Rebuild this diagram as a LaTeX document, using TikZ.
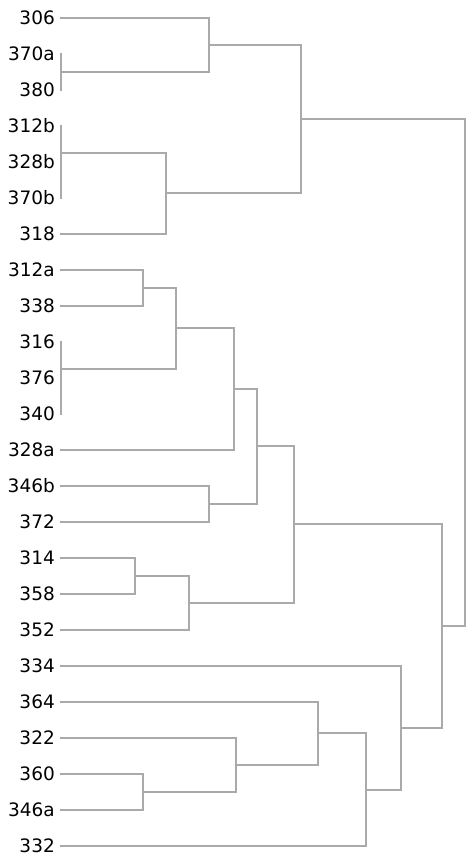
\documentclass[tikz,border=0pt]{standalone}
\usepackage{fontspec}
\setmainfont{DejaVu Sans}
\usetikzlibrary{positioning,calc}
\definecolor{linkGray}{RGB}{170,170,170}
\tikzset{
  leaf/.style={anchor=east, inner sep=0pt, font=\fontsize{18.5}{20}\selectfont},
  link/.style={draw=linkGray, line width=1.3pt}
}
\begin{document}
\begin{tikzpicture}[x=1pt,y=-1pt]
  \useasboundingbox (0,0) rectangle (474,864);
  % leaves
  \foreach \n/\y in {306/18,370a/54,380/90,312b/126,328b/162,370b/198,318/234,
      312a/270,338/306,316/342,376/378,340/414,328a/450,346b/486,372/522,
      314/558,358/594,352/630,334/666,364/702,322/738,360/774,346a/810,332/846}{
    \node[leaf] (t\n) at (55,\y) {\n};
    \coordinate (\n) at (60,\y);
  }
  % merge points (height, middle)
  \coordinate (cA) at (61,72);
  \coordinate (cB) at (209,45);
  \coordinate (cC0) at (61,180);
  \coordinate (cC) at (61,153);
  \coordinate (cD) at (166,193);
  \coordinate (cE) at (301,119);
  \coordinate (cF) at (143,288);
  \coordinate (cG0) at (61,396);
  \coordinate (cG) at (61,369);
  \coordinate (cH) at (176,328);
  \coordinate (cI) at (234,389);
  \coordinate (cJ) at (209,504);
  \coordinate (cK) at (257,446);
  \coordinate (cL) at (135,576);
  \coordinate (cM) at (189,603);
  \coordinate (cN) at (294,524);
  \coordinate (cO) at (143,792);
  \coordinate (cP) at (236,765);
  \coordinate (cQ) at (318,733);
  \coordinate (cR) at (366,790);
  \coordinate (cS) at (401,728);
  \coordinate (cT) at (442,626);
  \coordinate (cRoot) at (465,372);

  % links
  \draw[link] (370a) -| (cA) |- (380);
  \draw[link] (306) -| (cB) |- (cA);
  \draw[link] (328b) -| (cC0) |- (370b);
  \draw[link] (312b) -| (cC) |- (cC0);
  \draw[link] (cC) -| (cD) |- (318);
  \draw[link] (cB) -| (cE) |- (cD);
  \draw[link] (312a) -| (cF) |- (338);
  \draw[link] (376) -| (cG0) |- (340);
  \draw[link] (316) -| (cG) |- (cG0);
  \draw[link] (cF) -| (cH) |- (cG);
  \draw[link] (cH) -| (cI) |- (328a);
  \draw[link] (346b) -| (cJ) |- (372);
  \draw[link] (cI) -| (cK) |- (cJ);
  \draw[link] (314) -| (cL) |- (358);
  \draw[link] (cL) -| (cM) |- (352);
  \draw[link] (cK) -| (cN) |- (cM);
  \draw[link] (360) -| (cO) |- (346a);
  \draw[link] (322) -| (cP) |- (cO);
  \draw[link] (364) -| (cQ) |- (cP);
  \draw[link] (cQ) -| (cR) |- (332);
  \draw[link] (334) -| (cS) |- (cR);
  \draw[link] (cN) -| (cT) |- (cS);
  \draw[link] (cE) -| (cRoot) |- (cT);
\end{tikzpicture}
\end{document}
